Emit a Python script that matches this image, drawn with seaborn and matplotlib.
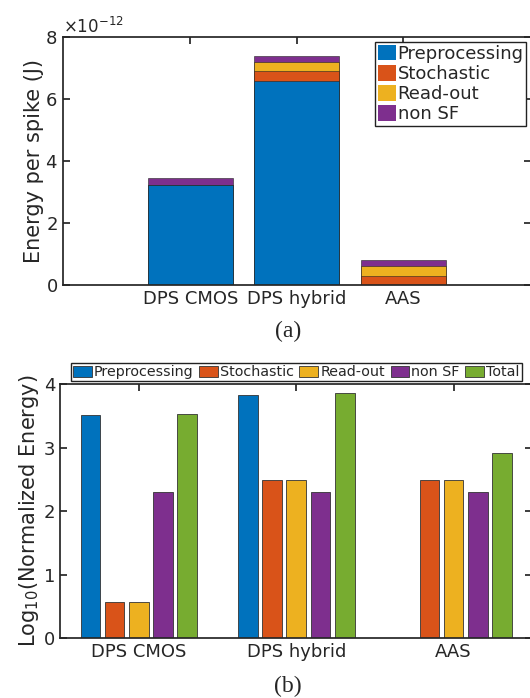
import numpy as np
import pandas as pd
import matplotlib
matplotlib.use("Agg")
import matplotlib.pyplot as plt
import seaborn as sns
from matplotlib.patches import Patch
from matplotlib.ticker import ScalarFormatter

# Data
designs = ["DPS CMOS", "DPS hybrid", "AAS"]
components = ["Preprocessing", "Stochastic", "Read-out", "non SF"]
colors = ["#0072BD", "#D95319", "#EDB120", "#7E2F8E", "#77AC30"]

# (a) energy per spike, units of 1e-12 J
pre_j = [3.24, 6.59, 0.0]
stoch_j = [0.004, 0.31, 0.31]
read_j = [0.004, 0.31, 0.31]
nonsf_j = [0.20, 0.20, 0.20]

# (b) log10 of normalized energy
pre_log = [3.52, 3.83, np.nan]
stoch_log = [0.57, 2.50, 2.50]
read_log = [0.57, 2.50, 2.50]
nonsf_log = [2.30, 2.30, 2.30]
total_log = [3.54, 3.87, 2.92]

sns.set_theme(style="ticks")
plt.rcParams["font.family"] = ["DejaVu Sans"]
plt.rcParams["axes.edgecolor"] = "#262626"
plt.rcParams["xtick.color"] = "#262626"
plt.rcParams["ytick.color"] = "#262626"

fig = plt.figure(figsize=(5.30, 6.98), dpi=100)

# ---------- (a) stacked bars ----------
ax1 = fig.add_axes([0.118, 0.591, 0.884, 0.3557])
layers = [pre_j, stoch_j, read_j, nonsf_j]
cum = np.cumsum(np.array(layers), axis=0)
df_a = pd.DataFrame({"design": designs})
for i in range(len(components) - 1, -1, -1):
    df_a["val"] = cum[i] * 1e-12
    sns.barplot(data=df_a, x="design", y="val", color=colors[i], saturation=1,
                width=0.8, edgecolor="#222222", linewidth=0.4, ax=ax1)

ax1.set_xlim(-1.2, 3.2)
ax1.set_ylim(0, 8e-12)
ax1.set_yticks(np.arange(0, 9e-12, 2e-12))
fmt = ScalarFormatter(useMathText=True)
fmt.set_powerlimits((0, 0))
ax1.yaxis.set_major_formatter(fmt)
ax1.yaxis.get_offset_text().set_fontsize(12)
ax1.set_xlabel("")
ax1.set_ylabel("Energy per spike (J)", fontsize=15, labelpad=1)
ax1.tick_params(direction="in", top=True, right=True, labelsize=13, length=5)

handles = [Patch(facecolor=colors[i], edgecolor="none", label=components[i]) for i in range(4)]
leg1 = ax1.legend(handles=handles, loc="upper right", bbox_to_anchor=(0.99, 0.98),
                  fontsize=13, handlelength=1.0, handleheight=0.95, handletextpad=0.1,
                  labelspacing=0.12, borderpad=0.15, borderaxespad=0, fancybox=False,
                  framealpha=1)
leg1.get_frame().set_edgecolor("#222222")
leg1.get_frame().set_linewidth(1.0)

fig.text(288 / 530, 1 - 331 / 698, "(a)", ha="center", va="center", fontsize=17,
         family="Liberation Serif")

# ---------- (b) grouped bars ----------
ax2 = fig.add_axes([0.1134, 0.086, 0.891, 0.3632])
names_b = components + ["Total"]
vals_b = [pre_log, stoch_log, read_log, nonsf_log, total_log]
rows = []
for name, vals in zip(names_b, vals_b):
    for d, v in zip(designs, vals):
        rows.append({"design": d, "component": name, "value": v})
df_b = pd.DataFrame(rows)
sns.barplot(data=df_b, x="design", y="value", hue="component", hue_order=names_b,
            palette=colors, saturation=1, width=0.77, gap=0.19,
            edgecolor="#333333", linewidth=0.6, ax=ax2)

ax2.set_xlim(-0.5, 2.5)
ax2.set_ylim(0, 4)
ax2.set_yticks([0, 1, 2, 3, 4])
ax2.set_xlabel("")
ax2.set_ylabel(r"Log$_{10}$(Normalized Energy)", fontsize=15, labelpad=2)
ax2.tick_params(direction="in", top=True, right=True, labelsize=13, length=5)

sns.move_legend(ax2, "lower center", bbox_to_anchor=(0.50, 1.012), ncol=5, title=None,
                fontsize=10.3, handlelength=1.3, handleheight=0.8, handletextpad=0.15,
                columnspacing=0.4, borderpad=0.15, borderaxespad=0, fancybox=False,
                frameon=True, framealpha=1)
leg2 = ax2.get_legend()
leg2.get_frame().set_edgecolor("#222222")
leg2.get_frame().set_linewidth(1.0)

fig.text(288 / 530, 1 - 686 / 698, "(b)", ha="center", va="center", fontsize=17,
         family="Liberation Serif")

fig.savefig("out.png", dpi=100)
